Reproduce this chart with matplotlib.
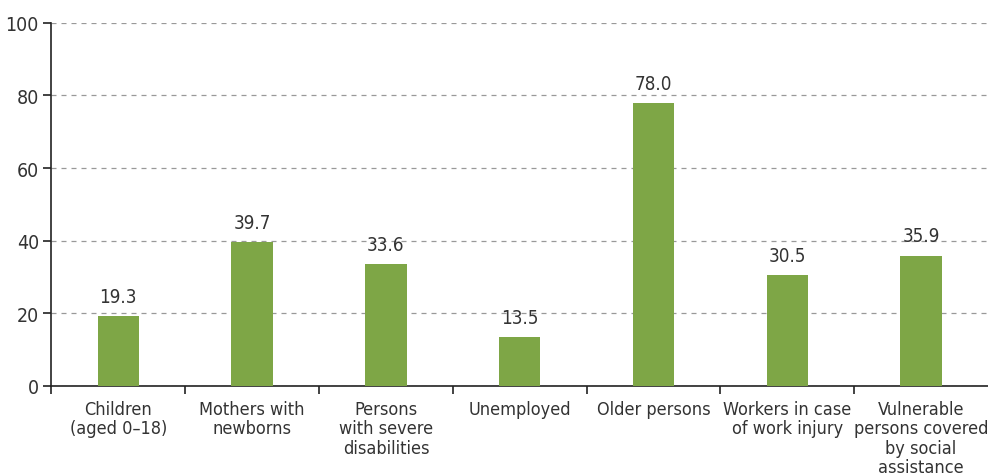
import numpy as np
import matplotlib
matplotlib.use("Agg")
import matplotlib.pyplot as plt

categories = ["Children\n(aged 0\u201318)", "Mothers with\nnewborns",
              "Persons\nwith severe\ndisabilities", "Unemployed",
              "Older persons", "Workers in case\nof work injury",
              "Vulnerable\npersons covered\nby social\nassistance"]
values = [19.3, 39.7, 33.6, 13.5, 78.0, 30.5, 35.9]
yticks = [0, 20, 40, 60, 80, 100]

BAR_COLOR = "#7ea646"
TEXT_COLOR = "#333333"

plt.rcParams["font.family"] = ["DejaVu Sans"]
plt.rcParams["font.stretch"] = "condensed"
plt.rcParams["font.size"] = 13

fig = plt.figure(figsize=(9.88, 4.77), dpi=100)
ax = fig.add_axes([0.052, 0.189, 0.948, 0.761])

x = np.arange(len(categories))
bars = ax.bar(x, values, width=0.31, color=BAR_COLOR, zorder=3)
for xi, v in zip(x, values):
    ax.text(xi, v + 2.8, f"{v:.1f}", ha="center", va="bottom",
            color=TEXT_COLOR, fontsize=13.5)

ax.set_xlim(-0.5, len(categories) - 0.5)
ax.set_ylim(0, 100)
ax.set_yticks(yticks)
ax.yaxis.grid(True, linestyle=(0, (4, 4)), color="#999999", linewidth=0.9)
ax.set_axisbelow(True)

ax.set_xticks(x)
ax.set_xticklabels(categories, color=TEXT_COLOR, linespacing=1.1, va="top")
ax.tick_params(axis="x", which="major", length=0, pad=10)
ax.set_xticks(np.arange(-0.5, len(categories) - 0.5, 1.0), minor=True)
ax.tick_params(axis="x", which="minor", length=6, width=1.2, color="#222222")
ax.tick_params(axis="y", length=6, width=1.2, color="#222222",
               labelcolor=TEXT_COLOR, labelsize=14, pad=3)

for side in ["top", "right"]:
    ax.spines[side].set_visible(False)
for side in ["left", "bottom"]:
    ax.spines[side].set_linewidth(1.2)
    ax.spines[side].set_color("#222222")

fig.savefig("out.png", dpi=100)
plt.close(fig)
